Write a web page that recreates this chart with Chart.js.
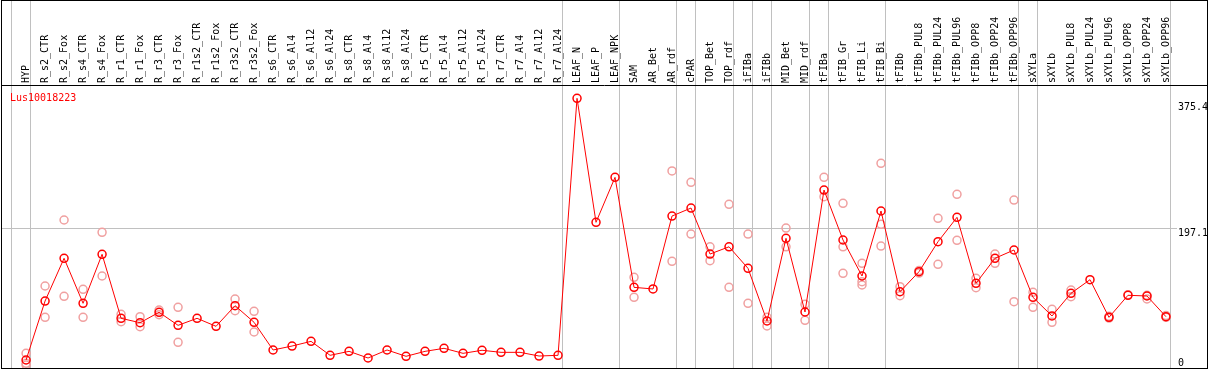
<!DOCTYPE html>
<html>
<head>
<meta charset="utf-8">
<script src="https://cdn.jsdelivr.net/npm/chart.js@4.4.1/dist/chart.umd.min.js"></script>
<style>
  body { margin: 0; background: #fff; }
</style>
</head>
<body>
<canvas id="graficaGen" width="1209" height="370"></canvas>
<script>
const geneName = 'Lus10018223';

const categorias = [
    'HYP', 'R_s2_CTR', 'R_s2_Fox', 'R_s4_CTR', 'R_s4_Fox', 'R_r1_CTR', 'R_r1_Fox', 'R_r3_CTR', 'R_r3_Fox', 'R_r1s2_CTR',
    'R_r1s2_Fox', 'R_r3s2_CTR', 'R_r3s2_Fox', 'R_s6_CTR', 'R_s6_Al4', 'R_s6_Al12', 'R_s6_Al24', 'R_s8_CTR', 'R_s8_Al4', 'R_s8_Al12',
    'R_s8_Al24', 'R_r5_CTR', 'R_r5_Al4', 'R_r5_Al12', 'R_r5_Al24', 'R_r7_CTR', 'R_r7_Al4', 'R_r7_Al12', 'R_r7_Al24', 'LEAF_N',
    'LEAF_P', 'LEAF_NPK', 'SAM', 'AR_Bet', 'AR_rdf', 'cPAR', 'TOP_Bet', 'TOP_rdf', 'iFIBa', 'iFIBb',
    'MID_Bet', 'MID_rdf', 'tFIBa', 'tFIB_Gr', 'tFIB_Li', 'tFIB_Bi', 'tFIBb', 'tFIBb_PUL8', 'tFIBb_PUL24', 'tFIBb_PUL96',
    'tFIBb_OPP8', 'tFIBb_OPP24', 'tFIBb_OPP96', 'sXYLa', 'sXYLb', 'sXYLb_PUL8', 'sXYLb_PUL24', 'sXYLb_PUL96', 'sXYLb_OPP8', 'sXYLb_OPP24',
    'sXYLb_OPP96'
];

// media
const promedio = [
    11.3, 94.5, 154.8, 91.3, 160.4, 70.1, 63.9, 78.6, 60.2, 70.1,
    58.8, 87.9, 64.5, 25.4, 31, 37.6, 17.9, 23.5, 14.1, 25.4,
    16.5, 23.5, 27.8, 20.7, 25, 22.1, 22.1, 16.9, 17.9, 380.5,
    205.6, 269, 113.8, 111.5, 214.4, 225.7, 160.8, 171, 140.6, 66.3,
    183, 79, 251.1, 180.6, 129.8, 221.5, 107.6, 135.9, 178.2, 212.6,
    119.5, 154.8, 166.5, 99.7, 73.4, 105.4, 124.6, 71.5, 102.6, 101.6,
    72.4
];

// replicas
const replica1 = [
    20.7, 115.7, 208.8, 111, 191.4, 75.8, 72.4, 81.8, 85.6, null,
    null, 97.3, 80, null, null, null, null, null, null, null,
    null, null, null, null, null, null, null, null, null, null,
    null, null, 128, null, 278, 262, 171, 231, 189, 71.5,
    197.5, 89.9, 269, 232.4, 147.7, 288.8, 114.7, 137.5, 211.2, 245,
    126.5, 160.8, 237, 106.8, 82.8, 110, null, 72.9, 103.5, 102.5,
    74
];
const replica2 = [
    6.6, 71.5, 101.1, 71.5, 129.8, 65.3, 58.3, 75.2, 36.3, null,
    null, 80.8, 50.8, null, null, null, null, null, null, null,
    null, null, null, null, null, null, null, null, null, null,
    null, null, 99.7, null, 150.5, 189, 151.4, 113.8, 91.3, 59.3,
    171, 67.3, 241.7, 171, 121.8, 202.7, 102, 134, 146.3, 180.2,
    113.3, 147.7, 93.5, 85.6, 64.5, 100.6, null, 70.4, null, 97.5,
    71.5
];
const replica3 = [
    4.2, null, null, null, null, null, null, null, null, null,
    null, null, null, null, null, null, null, null, null, null,
    null, null, null, null, null, null, null, null, null, null,
    null, null, null, null, null, null, null, null, null, null,
    null, null, null, 133.6, 117.1, 172.1, null, null, null, null,
    null, null, null, null, null, null, null, null, null, null,
    null
];

const ticksY = [0, 197.1, 375.4];
// indice de la ultima categoria de cada grupo
const finGrupo = [-1, 0, 28, 31, 34, 35, 37, 38, 39, 41, 42, 45, 52, 53, 60];

const puntos = vals => vals.map((v, i) => ({ x: i, y: v })).filter(p => p.y !== null);

const sinPadding = s => {
    s.paddingLeft = 0;
    s.paddingRight = 0;
    s.paddingTop = 0;
    s.paddingBottom = 0;
};

const marco = {
    id: 'marco',
    beforeDatasetsDraw(chart) {
        const { ctx, chartArea: a, scales: { x } } = chart;
        const derecha = chart.width - 1;
        ctx.save();
        ctx.lineWidth = 1;
        ctx.strokeStyle = '#c0c0c0';
        finGrupo.forEach(g => {
            const px = Math.round(x.getPixelForValue(g + 0.23)) + 0.5;
            ctx.beginPath();
            ctx.moveTo(px, 0);
            ctx.lineTo(px, a.bottom);
            ctx.stroke();
        });
        ctx.strokeStyle = '#000';
        ctx.strokeRect(a.left + 0.5, 0.5, derecha - a.left - 1, a.bottom);
        ctx.beginPath();
        ctx.moveTo(a.left, a.top + 0.5);
        ctx.lineTo(derecha, a.top + 0.5);
        ctx.stroke();
        ctx.fillStyle = '#ff0000';
        ctx.font = '10px "DejaVu Sans Mono"';
        ctx.textBaseline = 'middle';
        ctx.fillText(geneName, a.left + 9, a.top + 13);
        ctx.restore();
    }
};

const replicaStyle = {
    showLine: false,
    borderColor: '#f0a0a0',
    backgroundColor: 'transparent',
    pointRadius: 4,
    pointBorderWidth: 1.5,
    pointHoverRadius: 4
};

new Chart(document.getElementById('graficaGen'), {
    type: 'line',
    data: {
        datasets: [{
            label: 'media',
            data: puntos(promedio),
            borderColor: '#ff0000',
            borderWidth: 1,
            backgroundColor: 'transparent',
            pointBorderColor: '#ff0000',
            pointRadius: 4,
            pointBorderWidth: 1.5,
            tension: 0,
            order: 0
        },
        Object.assign({ label: 'rep1', data: puntos(replica1), order: 1 }, replicaStyle),
        Object.assign({ label: 'rep2', data: puntos(replica2), order: 1 }, replicaStyle),
        Object.assign({ label: 'rep3', data: puntos(replica3), order: 1 }, replicaStyle)]
    },
    options: {
        responsive: false,
        animation: false,
        layout: { autoPadding: false, padding: { left: 1, right: 1, top: 0, bottom: 2 } },
        scales: {
            x: {
                type: 'linear',
                position: 'top',
                min: -1.32,
                max: 60.58,
                afterBuildTicks: s => { s.ticks = categorias.map((c, i) => ({ value: i })); },
                afterFit: s => { s.height = 85; sinPadding(s); },
                grid: { display: false, drawTicks: false },
                border: { display: false },
                ticks: {
                    autoSkip: false,
                    minRotation: 90,
                    maxRotation: 90,
                    padding: 2,
                    labelOffset: 12,
                    color: '#000',
                    font: { family: 'DejaVu Sans Mono', size: 10 },
                    callback: v => categorias[v]
                }
            },
            y: {
                position: 'right',
                min: 0,
                max: 399.3,
                afterBuildTicks: s => { s.ticks = ticksY.map(v => ({ value: v })); },
                afterFit: s => { s.width = 31; sinPadding(s); },
                grid: {
                    drawTicks: false,
                    color: c => (c.tick && c.tick.value === 197.1) ? '#c0c0c0' : 'transparent'
                },
                border: { display: false },
                ticks: {
                    autoSkip: false,
                    crossAlign: 'near',
                    padding: 1,
                    color: '#000',
                    font: { family: 'DejaVu Sans Mono', size: 10, lineHeight: 1 },
                    callback: v => Number(v) === 0 ? ['0', ''] : ['', String(v)]
                }
            }
        },
        plugins: {
            legend: { display: false },
            tooltip: { enabled: false }
        }
    },
    plugins: [marco]
});
</script>
</body>
</html>
